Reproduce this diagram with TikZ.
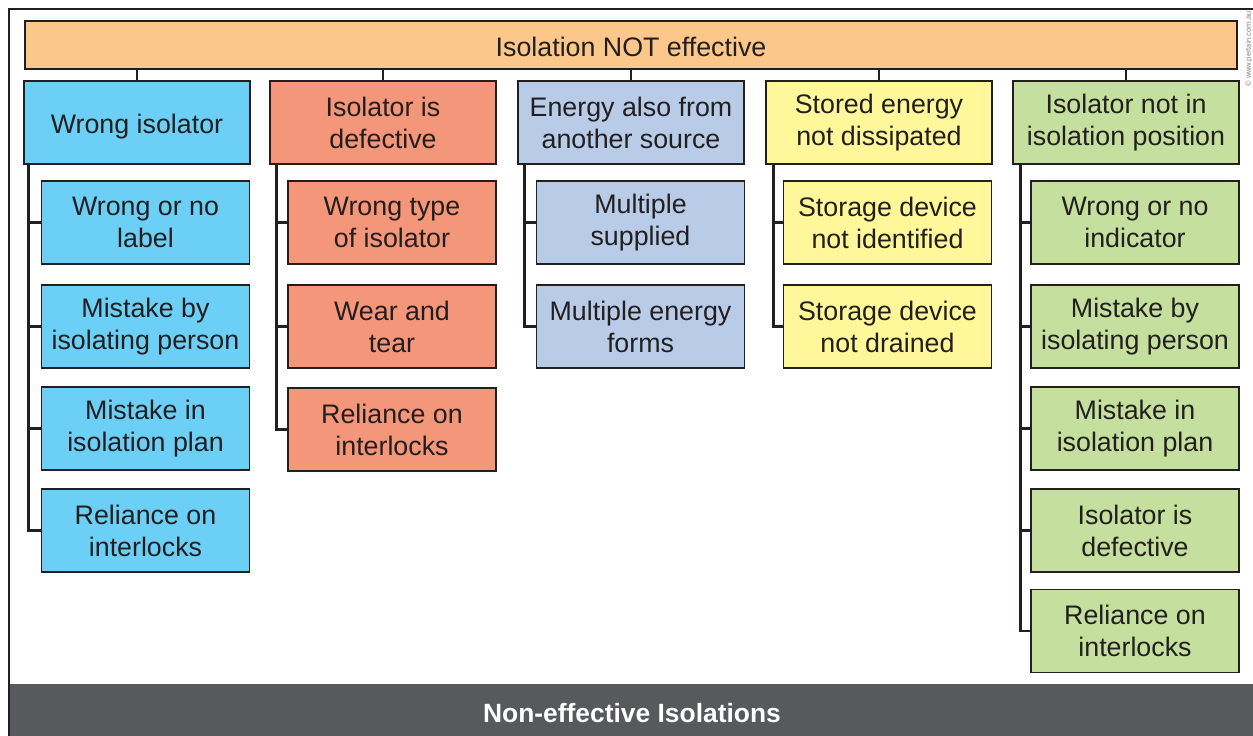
\documentclass[tikz,border=0pt]{standalone}
\usepackage{fontspec}
\setmainfont{Liberation Sans}
\usetikzlibrary{calc}
\definecolor{linecol}{HTML}{231F20}
\definecolor{topc}{HTML}{FBC78B}
\definecolor{bluec}{HTML}{6BCFF6}
\definecolor{redc}{HTML}{F4967A}
\definecolor{lbluec}{HTML}{B8CCE8}
\definecolor{yelc}{HTML}{FFF799}
\definecolor{greenc}{HTML}{C5DF9E}
\definecolor{barc}{HTML}{58595B}
\newcommand{\lowertext}[2]{\raisebox{-#1}[\height][\depth]{#2}}
\tikzset{
  box/.style={draw=linecol, line width=1.1pt, align=center, inner sep=0pt,
    text=linecol, font=\fontsize{26.8}{32}\selectfont},
  hbox/.style={box, minimum width=226pt, minimum height=83pt},
  cbox/.style={box, minimum width=208pt, minimum height=83pt},
  conn/.style={draw=linecol, line width=2.4pt},
}
\begin{document}
\begin{tikzpicture}[x=1pt,y=-1pt]
\useasboundingbox (0,0) rectangle (1253,736);
% frame and bottom bar
\fill[barc] (9,684) rectangle (1253,736);
\draw[linecol, line width=2pt] (8.5,736) -- (8.5,8.5) -- (1253,8.5);
\node[font=\fontsize{26.4}{30}\selectfont\bfseries, text=white] (title) at (632,713) {Non-effective Isolations};
\node[rotate=90, font=\fontsize{7.5}{9}\selectfont, text=gray, inner sep=0pt] (copy) at (1249,49) {© www.pertain.com.au};
% top
\node[box, fill=topc, minimum width=1212pt, minimum height=48pt] (top) at (631,45) {\lowertext{2pt}{Isolation NOT effective}};
% headers
\node[hbox, fill=bluec] (h1) at (137,122.5) {\lowertext{4pt}{Wrong isolator}};
\node[hbox, fill=redc] (h2) at (383,122.5) {Isolator is\\defective};
\node[hbox, fill=lbluec] (h3) at (631,122.5) {Energy also from\\another source};
\node[hbox, fill=yelc] (h4) at (879,122.5) {Stored energy\\not dissipated};
\node[hbox, fill=greenc] (h5) at (1126,122.5) {Isolator not in\\isolation position};
% column 1
\node[cbox, fill=bluec] (c11) at (145.5,222.5) {Wrong or no\\label};
\node[cbox, fill=bluec] (c12) at (145.5,326.5) {Mistake by\\isolating person};
\node[cbox, fill=bluec] (c13) at (145.5,428.5) {Mistake in\\isolation plan};
\node[cbox, fill=bluec] (c14) at (145.5,530.5) {Reliance on\\interlocks};
% column 2
\node[cbox, fill=redc] (c21) at (392,222.5) {Wrong type\\of isolator};
\node[cbox, fill=redc] (c22) at (392,326.5) {Wear and\\tear};
\node[cbox, fill=redc] (c23) at (392,429.5) {Reliance on\\interlocks};
% column 3
\node[cbox, fill=lbluec] (c31) at (640.5,222.5) {Multiple\\supplied};
\node[cbox, fill=lbluec] (c32) at (640.5,326.5) {Multiple energy\\forms};
% column 4
\node[cbox, fill=yelc] (c41) at (887.5,222.5) {Storage device\\not identified};
\node[cbox, fill=yelc] (c42) at (887.5,326.5) {Storage device\\not drained};
% column 5
\node[cbox, fill=greenc] (c51) at (1135,222.5) {Wrong or no\\indicator};
\node[cbox, fill=greenc] (c52) at (1135,326.5) {Mistake by\\isolating person};
\node[cbox, fill=greenc] (c53) at (1135,428.5) {Mistake in\\isolation plan};
\node[cbox, fill=greenc] (c54) at (1135,530.5) {Isolator is\\defective};
\node[cbox, fill=greenc] (c55) at (1135,631) {Reliance on\\interlocks};
% top connectors
\foreach \h in {h1,h2,h3,h4,h5}
  \draw[conn] (\h.north) -- (\h.north |- top.south);
% spines
\coordinate (s1) at ([xshift=5pt]h1.south west);
\coordinate (s2) at ([xshift=7pt]h2.south west);
\coordinate (s3) at ([xshift=7pt]h3.south west);
\coordinate (s4) at ([xshift=8pt]h4.south west);
\coordinate (s5) at ([xshift=8pt]h5.south west);
\draw[conn] (s1) |- (c14.west);
\foreach \c in {c11,c12,c13} \draw[conn] (\c.west) -- (\c.west -| s1);
\draw[conn] (s2) |- (c23.west);
\foreach \c in {c21,c22} \draw[conn] (\c.west) -- (\c.west -| s2);
\draw[conn] (s3) |- (c32.west);
\draw[conn] (c31.west) -- (c31.west -| s3);
\draw[conn] (s4) |- (c42.west);
\draw[conn] (c41.west) -- (c41.west -| s4);
\draw[conn] (s5) |- (c55.west);
\foreach \c in {c51,c52,c53,c54} \draw[conn] (\c.west) -- (\c.west -| s5);
\end{tikzpicture}
\end{document}
